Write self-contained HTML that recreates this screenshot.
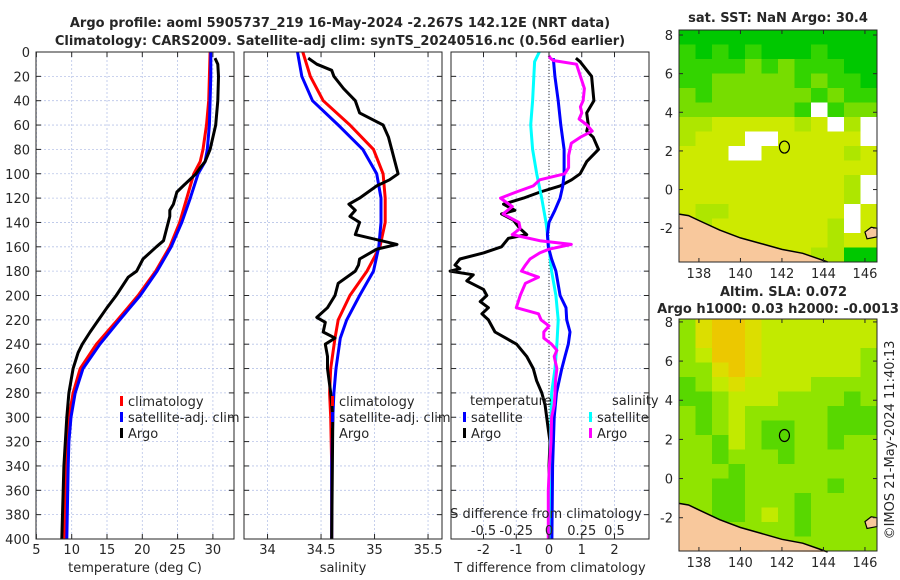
<!DOCTYPE html>
<html><head><meta charset="utf-8"><style>
html,body{margin:0;padding:0;background:#fff;width:900px;height:580px;overflow:hidden}
svg text{font-family:"DejaVu Sans","Liberation Sans",sans-serif;fill:#262626}
</style></head><body>
<svg id="fig" width="900" height="580" viewBox="0 0 900 580" xmlns="http://www.w3.org/2000/svg">
<text x="340" y="27" text-anchor="middle" font-size="13" font-weight="bold">Argo profile: aoml 5905737_219 16-May-2024 -2.267S 142.12E (NRT data)</text>
<text x="340" y="45" text-anchor="middle" font-size="13" font-weight="bold">Climatology: CARS2009. Satellite-adj clim: synTS_20240516.nc (0.56d earlier)</text>
<text x="778" y="22" text-anchor="middle" font-size="13" font-weight="bold">sat. SST: NaN Argo: 30.4</text>
<text x="720" y="296" text-anchor="start" font-size="13" font-weight="bold">Altim. SLA: 0.072</text>
<text x="778" y="313" text-anchor="middle" font-size="13" font-weight="bold">Argo h1000: 0.03 h2000: -0.0013</text>
<text transform="translate(894,440) rotate(-90)" text-anchor="middle" font-size="13">©IMOS 21-May-2024 11:40:13</text>
<g id="g"></g>
</svg>
<script>
// ---------- data ----------
const tDepth   = [0,20,40,60,80,90,100,120,140,160,180,200,220,240,260,280,300,320,340,400];
const tClim    = [29.6,29.5,29.4,29.1,28.6,28.2,27.3,26.3,25.3,23.9,21.9,19.4,16.5,13.5,11.2,10.2,9.6,9.3,9.2,9.0];
const tSat     = [29.7,29.7,29.6,29.5,29.2,28.9,27.9,26.8,25.6,24.1,22.1,19.7,16.8,14.0,11.6,10.5,9.9,9.6,9.5,9.3];
const argoTDepth = [5,10,20,40,60,80,90,95,100,110,115,125,130,135,155,160,170,180,185,200,210,220,230,240,247,260,280,300,340,400];
const argoT    = [30.3,30.7,30.8,30.7,30.4,29.6,28.9,28.2,27.6,25.8,24.9,24.4,23.9,23.9,23.0,22.0,20.1,19.2,18.0,16.3,15.0,13.8,12.6,11.5,10.9,10.2,9.6,9.3,8.9,8.6];
const sDepth   = [0,20,40,60,80,100,120,140,160,180,200,220,235,260,280,300,340,400];
const sClim    = [34.33,34.40,34.52,34.77,34.99,35.08,35.10,35.10,35.05,34.93,34.77,34.66,34.63,34.59,34.58,34.59,34.60,34.60];
const sSat     = [34.28,34.32,34.42,34.66,34.89,35.02,35.06,35.06,35.04,34.99,34.86,34.74,34.68,34.64,34.62,34.61,34.60,34.60];
const argoSDepth = [5,10,15,20,30,40,50,60,70,80,90,100,105,110,120,125,130,135,140,150,158,162,170,175,180,190,200,210,218,222,230,235,240,250,260,280,300,400];
const argoS    = [34.38,34.46,34.60,34.62,34.71,34.82,34.86,35.08,35.13,35.16,35.19,35.22,35.14,35.02,34.86,34.76,34.82,34.77,34.86,34.82,35.21,35.02,34.86,34.85,34.82,34.66,34.63,34.56,34.46,34.54,34.52,34.63,34.54,34.56,34.56,34.59,34.61,34.60];
const dtSatDepth = [5,20,40,60,80,100,110,120,130,140,150,160,170,180,200,210,220,230,240,250,260,280,300,340,400];
const dtSat    = [0.13,0.18,0.28,0.36,0.46,0.46,0.42,0.34,0.18,0.0,-0.05,-0.02,0.08,0.21,0.34,0.52,0.54,0.64,0.59,0.49,0.39,0.23,0.16,0.11,0.09];
const dtArgoDepth = [5,8,20,40,50,60,65,70,80,90,100,105,110,115,120,125,130,133,138,145,150,153,160,165,170,175,178,180,183,188,195,200,205,210,215,220,230,240,250,260,270,280,290,300,310,320,340,400];
const dtArgo   = [0.82,0.95,1.30,1.37,1.15,1.20,1.15,1.35,1.51,1.15,0.95,0.69,0.34,-0.27,-0.78,-1.39,-1.04,-1.45,-1.09,-0.89,-0.68,-1.24,-1.45,-2.0,-2.72,-2.87,-2.72,-3.02,-2.31,-2.51,-2.0,-1.9,-2.1,-1.85,-2.05,-1.85,-1.65,-0.99,-0.68,-0.48,-0.38,-0.22,-0.12,-0.07,-0.02,0.03,0.0,0.0];
const dsSatDepth = [0,8,40,60,80,100,120,140,160,180,200,220,240,260,280,300,340,400];
const dsSat    = [-0.074,-0.11,-0.125,-0.14,-0.125,-0.094,-0.056,-0.023,0.0,0.02,0.053,0.07,0.06,0.046,0.02,0.015,0.008,0.008];
const dsArgoDepth = [3,5,7,10,20,30,40,45,50,55,60,65,70,75,85,95,100,105,110,115,120,127,133,140,145,150,155,158,162,165,170,175,180,185,190,200,210,215,220,225,230,235,240,245,250,255,260,270,280,290,300,320,340,360,400];
const dsArgo   = [0,0.01,0.033,0.21,0.24,0.27,0.26,0.24,0.25,0.23,0.29,0.33,0.24,0.17,0.15,0.15,0.12,-0.07,-0.12,-0.25,-0.37,-0.28,-0.35,-0.23,-0.22,-0.28,-0.07,0.17,0.0,-0.07,-0.145,-0.18,-0.21,-0.08,-0.18,-0.22,-0.25,-0.08,-0.06,0.0,-0.04,-0.04,0.02,0.06,0.04,0.05,0.06,0.05,0.046,0.04,0.02,0.015,0.003,-0.005,-0.005];
const depthTicks = [0,20,40,60,80,100,120,140,160,180,200,220,240,260,280,300,320,340,360,380,400];
const tTicks = [5,10,15,20,25,30];
const sTicks = [34,34.5,35,35.5];
const sTickLabels = ["34","34.5","35","35.5"];
const dtTicks = [-2,-1,0,1,2];
const dsTicks = [-0.5,-0.25,0,0.25,0.5];
const dsTickLabels = ["-0.5","-0.25","0","0.25","0.5"];
const lonTicks = [138,140,142,144,146];
const latTicks = [-2,0,2,4,6,8];
// SST grid: 16 rows (north->south) x 12 cols, codes 0-4, '.' = NaN
const sstGrid = [
"000000000000","101010001000","111121211100","112222212110",
"212222221211","22222221.122","334444434.3.","3444..44444.",
"444..4444434","444444444444","44444444443.","44444444443.",
"4334444444.4","3344444443.4","334444444344","444444443300"];
// SLA grid: codes 0 (orange) .. 5 (green)
const slaGrid = [
"310012222222","310012222222","320012222223","331012222223",
"432122223333","443222333343","343233333444","343234433444",
"334234433433","334333433333","333433333333","334433333433",
"334433343333","334432343333","333333343333","333333333333"];
const coastLon = [137.04,137.5,138.0,139.0,140.0,141.0,142.0,143.0,143.8,144.2];
const coastLat = [-1.27,-1.35,-1.6,-2.1,-2.5,-2.8,-3.1,-3.3,-3.6,-3.75];
const argoLon = 142.12, argoLat = 2.2;

// ---------- helpers ----------
const NS="http://www.w3.org/2000/svg";
const G=document.getElementById('g');
function el(tag,attrs,parent){const e=document.createElementNS(NS,tag);for(const k in attrs)e.setAttribute(k,attrs[k]);(parent||G).appendChild(e);return e;}
const Y0=52,Y1=539;
const yD=d=>Y0+(d/400)*(Y1-Y0);

function panel(name){
  const g=el('g',{});
  
  
  return g;
}
function grid(g,x0,x1,xs,xsc){
  depthTicks.forEach(d=>{const l=el('line',{x1:x0,x2:x1,y1:yD(d),y2:yD(d),stroke:'#b8c4e8','stroke-width':0.8,'stroke-dasharray':'2,2'},g);});
  xs.forEach(v=>{const l=el('line',{x1:xsc(v),x2:xsc(v),y1:Y0,y2:Y1,stroke:'#b8c4e8','stroke-width':0.8,'stroke-dasharray':'2,2'},g);});
}
function frame(g,x0,x1,xs,xsc){
  const r=el('rect',{x:x0,y:Y0,width:x1-x0,height:Y1-Y0,fill:'none',stroke:'#262626','stroke-width':1},g);
  
  depthTicks.forEach(d=>{el('line',{x1:x0,x2:x0+5,y1:yD(d),y2:yD(d),stroke:'#262626'},g);el('line',{x1:x1-5,x2:x1,y1:yD(d),y2:yD(d),stroke:'#262626'},g);});
  xs.forEach(v=>{el('line',{x1:xsc(v),x2:xsc(v),y1:Y1-5,y2:Y1,stroke:'#262626'},g);el('line',{x1:xsc(v),x2:xsc(v),y1:Y0,y2:Y0+5,stroke:'#262626'},g);});
}
function line(g,depths,vals,xsc,color,name,w){
  const p=el('polyline',{points:depths.map((d,i)=>xsc(vals[i]).toFixed(1)+','+yD(d).toFixed(1)).join(' '),fill:'none',stroke:color,'stroke-width':w||3,'stroke-linejoin':'round'},g);
  
  
}
function text(g,x,y,s,anchor,size,name){
  const t=el('text',{x:x,y:y,'text-anchor':anchor||'middle','font-size':size||13},g);t.textContent=s;
  
  
  return t;
}
function legendItem(g,x,y,color,label,name){
  const m=el('rect',{x:x,y:y-10,width:3,height:10,fill:color},g);
  
  
  text(g,x+8,y,label,'start',13,name);
}

// ---------- panel 1: temperature ----------
const xT=v=>36.4+(v-5)*7.06;
let g1=panel('temperature-panel');
grid(g1,36,234,tTicks,xT);
line(g1,tDepth,tClim,xT,'#ff0000','temperature-climatology-line');
line(g1,tDepth,tSat,xT,'#0000ff','temperature-satellite-line');
line(g1,argoTDepth,argoT,xT,'#000000','temperature-argo-line');
frame(g1,36,234,tTicks,xT);
depthTicks.forEach(d=>text(g1,30,yD(d)+5,String(d),'end',13,'depth-tick-label'));
tTicks.forEach(v=>text(g1,xT(v),554,String(v),'middle',13,'temperature-tick-label'));
text(g1,135,572,'temperature (deg C)','middle',13,'temperature-axis-title');
legendItem(g1,120,406,'#ff0000','climatology','legend-climatology');
legendItem(g1,120,422,'#0000ff','satellite-adj. clim','legend-satellite-adj');
legendItem(g1,120,438,'#000000','Argo','legend-argo');

// ---------- panel 2: salinity ----------
const xS=v=>244+(v-33.78)*107;
let g2=panel('salinity-panel');
grid(g2,244,442,sTicks,xS);
line(g2,sDepth,sClim,xS,'#ff0000','salinity-climatology-line');
line(g2,sDepth,sSat,xS,'#0000ff','salinity-satellite-line');
line(g2,argoSDepth,argoS,xS,'#000000','salinity-argo-line');
frame(g2,244,442,sTicks,xS);
sTicks.forEach((v,i)=>text(g2,xS(v),554,sTickLabels[i],'middle',13,'salinity-tick-label'));
text(g2,343,572,'salinity','middle',13,'salinity-axis-title');
legendItem(g2,331,406,'#ff0000','climatology','legend-climatology');
legendItem(g2,331,422,'#0000ff','satellite-adj. clim','legend-satellite-adj');
legendItem(g2,331,438,'#000000','Argo','legend-argo');

// ---------- panel 3: differences ----------
const xDT=v=>549+v*32.75;
const xDS=v=>549+v*4*32.75;
let g3=panel('difference-panel');
grid(g3,451,649,dtTicks,xDT);
const zl=el('line',{x1:549,x2:549,y1:Y0,y2:Y1,stroke:'#333','stroke-width':1,'stroke-dasharray':'1,2'},g3);

line(g3,dtArgoDepth,dtArgo,xDT,'#000000','t-diff-argo-line');
line(g3,dsSatDepth,dsSat,xDS,'#00ffff','s-diff-satellite-line');
line(g3,dtSatDepth,dtSat,xDT,'#0000ff','t-diff-satellite-line');
line(g3,dsArgoDepth,dsArgo,xDS,'#ff00ff','s-diff-argo-line');
frame(g3,451,649,dtTicks,xDT);
dtTicks.forEach(v=>text(g3,xDT(v),554,String(v),'middle',13,'t-diff-tick-label'));
dsTicks.forEach((v,i)=>text(g3,xDS(v),535,dsTickLabels[i],'middle',13,'s-diff-tick-label'));
text(g3,546,518,'S difference from climatology','middle',13,'s-diff-axis-title');
text(g3,550,572,'T difference from climatology','middle',13,'t-diff-axis-title');
text(g3,470,405,'temperature','start',13,'legend-temperature-heading');
text(g3,612,405,'salinity','start',13,'legend-salinity-heading');
legendItem(g3,463,422,'#0000ff','satellite','legend-t-satellite');
legendItem(g3,463,438,'#000000','Argo','legend-t-argo');
legendItem(g3,589,422,'#00ffff','satellite','legend-s-satellite');
legendItem(g3,589,438,'#ff00ff','Argo','legend-s-argo');

// ---------- maps ----------
const sstColors={'0':'#00c800','1':'#33d400','2':'#77dd00','3':'#aee600','4':'#cdea00','.':'#ffffff'};
const slaColors={'0':'#ecc800','1':'#dcde00','2':'#c2ea00','3':'#90e400','4':'#58d800','5':'#22cc00'};
function map(name,x0,x1,y0,y1,latTop,latBot,gridRows,colors,xTickY){
  const LON0=137.04,LON1=146.58;
  const xm=lon=>x0+(lon-LON0)/(LON1-LON0)*(x1-x0);
  const ym=lat=>y0+(latTop-lat)/(latTop-latBot)*(y1-y0);
  const g=el('g',{});
  
  
  const nr=gridRows.length,nc=gridRows[0].length;
  const dLat=(latTop-latBot)/nr,dLon=(LON1-LON0)/nc;
  gridRows.forEach((row,r)=>{[...row].forEach((c,k)=>{
    const xa=xm(LON0+k*dLon),xb=xm(LON0+(k+1)*dLon),ya=ym(latTop-r*dLat),yb=ym(latTop-(r+1)*dLat);
    const cell=el('rect',{x:xa,y:ya,width:xb-xa+0.5,height:yb-ya+0.5,fill:colors[c]},g);
    
    
  });});
  let pts=coastLon.map((lo,i)=>xm(lo).toFixed(1)+','+ym(coastLat[i]).toFixed(1));
  pts.push(x0+','+y1);
  const land=el('polygon',{points:pts.join(' '),fill:'#f8c89c',stroke:'none'},g);
  
  const coast=el('polyline',{points:coastLon.map((lo,i)=>xm(lo).toFixed(1)+','+ym(coastLat[i]).toFixed(1)).join(' '),fill:'none',stroke:'#000','stroke-width':1.5},g);
  
  const isl=el('path',{d:`M${xm(146.0)},${ym(-2.2)} L${xm(146.3)},${ym(-1.95)} L${x1},${ym(-2.0)} L${x1},${ym(-2.45)} L${xm(146.1)},${ym(-2.55)} Z`,fill:'#f8c89c',stroke:'#000','stroke-width':1.2},g);
  
  const m=el('ellipse',{cx:xm(argoLon),cy:ym(argoLat),rx:5,ry:6,fill:'none',stroke:'#000','stroke-width':1.2},g);
  
  const f=el('rect',{x:x0,y:y0,width:x1-x0,height:y1-y0,fill:'none',stroke:'#262626'},g);
  
  latTicks.forEach(v=>{const y=ym(v);el('line',{x1:x0,x2:x0+4,y1:y,y2:y,stroke:'#262626'},g);el('line',{x1:x1-4,x2:x1,y1:y,y2:y,stroke:'#262626'},g);text(g,x0-6,y+5,String(v),'end',13,'lat-tick-label');});
  lonTicks.forEach(v=>{const x=xm(v);el('line',{x1:x,x2:x,y1:y1-4,y2:y1,stroke:'#262626'},g);el('line',{x1:x,x2:x,y1:y0,y2:y0+4,stroke:'#262626'},g);text(g,x,xTickY,String(v),'middle',13,'lon-tick-label');});
}
map('sst-map',679,877,30,262,8.26,-3.75,sstGrid,sstColors,278);
map('sla-map',679,877,319,551,8.15,-3.7,slaGrid,slaColors,567);
</script>
</body></html>
